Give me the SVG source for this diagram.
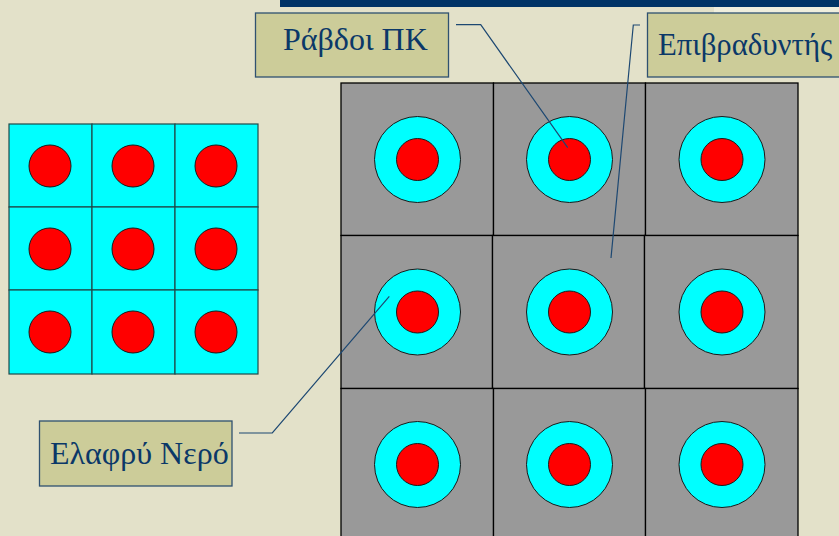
<svg xmlns="http://www.w3.org/2000/svg" width="839" height="536" viewBox="0 0 839 536">
  <defs>
    <style>
      .bg { fill: #e3e1c9; }
      .plain { fill: #00ffff; stroke: #1f4a4a; stroke-width: 1.2; }
      .mod { fill: #999999; stroke: #000000; stroke-width: 1.3; }
      .fuel { fill: #ff0000; stroke: #1a1a1a; stroke-width: 1; }
      .water { fill: #00ffff; stroke: #1a1a1a; stroke-width: 1; }
      .label rect { fill: #cccc99; stroke: #2f5170; stroke-width: 1.3; }
      .label text { font-family: "Liberation Serif", "DejaVu Serif", serif; fill: #0b3868; }
      .leader { fill: none; stroke: #1d4872; stroke-width: 1.2; }
    </style>
    <g id="cell-left">
      <circle class="fuel" r="21"/>
    </g>
    <g id="pin">
      <circle class="water" r="43"/>
      <circle class="fuel" r="21"/>
    </g>
  </defs>

  <!-- background and title bar -->
  <rect class="bg" x="0" y="0" width="839" height="536"/>
  <rect x="714" y="7" width="125" height="8" fill="#efeedd"/>
  <rect x="280" y="0" width="559" height="7" fill="#003366"/>

  <!-- left lattice: bare fuel rods in light water -->
  <g id="lattice-water">
    <rect class="plain" x="9" y="124" width="83" height="83"/>
    <rect class="plain" x="92" y="124" width="83" height="83"/>
    <rect class="plain" x="175" y="124" width="83" height="83"/>
    <rect class="plain" x="9" y="207" width="83" height="83"/>
    <rect class="plain" x="92" y="207" width="83" height="83"/>
    <rect class="plain" x="175" y="207" width="83" height="83"/>
    <rect class="plain" x="9" y="290" width="83" height="84"/>
    <rect class="plain" x="92" y="290" width="83" height="84"/>
    <rect class="plain" x="175" y="290" width="83" height="84"/>
    <use href="#cell-left" x="50" y="166"/>
    <use href="#cell-left" x="133" y="166"/>
    <use href="#cell-left" x="216" y="166"/>
    <use href="#cell-left" x="50" y="249"/>
    <use href="#cell-left" x="133" y="249"/>
    <use href="#cell-left" x="216" y="249"/>
    <use href="#cell-left" x="50" y="332"/>
    <use href="#cell-left" x="133" y="332"/>
    <use href="#cell-left" x="216" y="332"/>
  </g>

  <!-- right lattice: fuel rods with water channels in moderator blocks -->
  <g id="lattice-moderator">
    <rect class="mod" x="341" y="83" width="152.5" height="152.5"/>
    <rect class="mod" x="493.5" y="83" width="152" height="152.5"/>
    <rect class="mod" x="645.5" y="83" width="152.5" height="152.5"/>
    <rect class="mod" x="341" y="235.5" width="151.5" height="153"/>
    <rect class="mod" x="492.5" y="235.5" width="152" height="153"/>
    <rect class="mod" x="644.5" y="235.5" width="153.5" height="153"/>
    <rect class="mod" x="341" y="388.5" width="152.5" height="150"/>
    <rect class="mod" x="493.5" y="388.5" width="152" height="150"/>
    <rect class="mod" x="645.5" y="388.5" width="152.5" height="150"/>
    <use href="#pin" x="417.5" y="159.5"/>
    <use href="#pin" x="569.5" y="159.5"/>
    <use href="#pin" x="722" y="159.5"/>
    <use href="#pin" x="417.5" y="312"/>
    <use href="#pin" x="569.5" y="312"/>
    <use href="#pin" x="722" y="312"/>
    <use href="#pin" x="417.5" y="464.5"/>
    <use href="#pin" x="569.5" y="464.5"/>
    <use href="#pin" x="722" y="464.5"/>
  </g>

  <!-- callout leaders -->
  <g id="connectors">
    <polyline class="leader" points="456,24.7 480.7,24.7 567.7,147.7"/>
    <polyline class="leader" points="640,25 633.3,25 611,258"/>
    <polyline class="leader" points="239,433 272.3,433 389.3,296.3"/>
  </g>

  <g id="label-rods" class="label">
    <rect x="255.5" y="13" width="193" height="64"/>
    <text x="283" y="49.5" font-size="32">Ράβδοι ΠΚ</text>
  </g>

  <g id="label-moderator" class="label">
    <rect x="647.5" y="13" width="200" height="64"/>
    <text x="658" y="55" font-size="30.8">Επιβραδυντής</text>
  </g>

  <g id="label-water" class="label">
    <rect x="39.5" y="421" width="192.5" height="65"/>
    <text x="50" y="464" font-size="32">Ελαφρύ Νερό</text>
  </g>
</svg>
